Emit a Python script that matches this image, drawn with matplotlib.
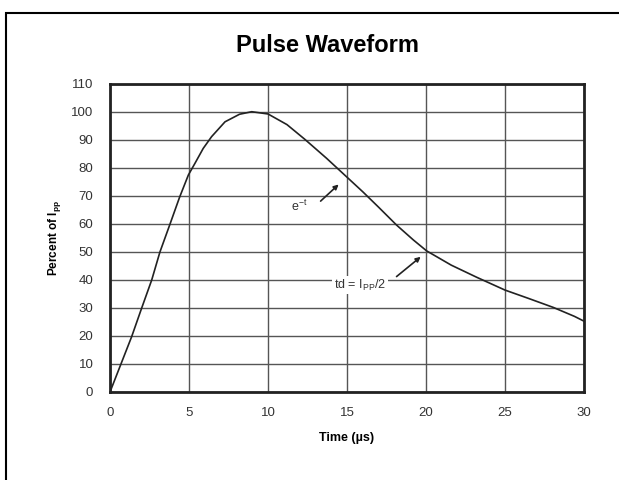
import numpy as np
import matplotlib.pyplot as plt
from matplotlib.patches import Rectangle

plt.rcParams['font.family'] = ['Liberation Sans', 'DejaVu Sans']

# Pulse waveform (time in us, percent of Ipp)
time_us = [0, 1.37, 2.0, 2.64, 3.16, 3.8, 4.4, 4.96, 5.38, 5.9, 6.43, 7.28, 8.2, 8.97, 10.0, 11.2, 12.34,
           13.7, 15.08, 16.0, 17.0, 18.14, 19.2, 20.04, 21.6, 23.2, 25.0, 26.5, 28.06, 29.4, 30.0]
percent = [0, 19.75, 29.9, 40.0, 50.0, 60.0, 69.5, 77.5, 81.7, 87.0, 91.2, 96.5, 99.2, 100.1, 99.3, 95.5, 90.2,
           83.5, 76.3, 71.5, 66.0, 59.6, 54.3, 50.4, 45.3, 41.0, 36.4, 33.4, 30.2, 27.0, 25.3]

x_ticks = [0, 5, 10, 15, 20, 25, 30]
y_ticks = list(range(0, 111, 10))

fig = plt.figure(figsize=(6.19, 4.8), dpi=100)
ax = fig.add_axes([110 / 619, 1 - 392 / 480, 474 / 619, 308 / 480])

# outer frame of the picture
fig.patches.append(Rectangle((6 / 619, -0.05), 1.1, 1 - 13 / 480 + 0.05, transform=fig.transFigure,
                             fill=False, edgecolor='black', linewidth=1.5))

ax.plot(time_us, percent, color='#222222', linewidth=1.2, zorder=3)

ax.set_xlim(0, 30)
ax.set_ylim(0, 110)
ax.set_xticks(x_ticks)
ax.set_yticks(y_ticks)
ax.grid(True, color='#555555', linewidth=1.0, zorder=0)
ax.set_axisbelow(True)
ax.tick_params(length=0, labelsize=9.5, labelcolor='#333333')
ax.tick_params(axis='y', pad=12)
ax.tick_params(axis='x', pad=11)
for sp in ax.spines.values():
    sp.set_linewidth(2)
    sp.set_color('#222222')

ax.set_xlabel('Time (µs)', fontsize=9, fontweight='bold', labelpad=9)
ax.set_ylabel('Percent of I$_{\\mathregular{pp}}$', fontsize=8.5, fontweight='bold', labelpad=6)

fig.text(327 / 619, 1 - 46 / 480, 'Pulse Waveform', fontsize=17, fontweight='bold',
         ha='center', va='center')

arrow = dict(arrowstyle='-|>', color='#222222', linewidth=1.2, mutation_scale=7)
ax.annotate('', xy=(14.6, 74.8), xytext=(13.2, 67.5), arrowprops=arrow)
ax.text(12.0, 66.2, 'e$^{\\mathregular{-t}}$', fontsize=9, ha='center', va='center', color='#333333')

ax.annotate('', xy=(19.8, 48.9), xytext=(18.0, 40.6), arrowprops=arrow)
ax.text(15.8, 38.2, 'td = I$_{\\mathregular{PP}}$/2', fontsize=9, ha='center', va='center', color='#333333',
        bbox=dict(boxstyle='square,pad=0.15', facecolor='white', edgecolor='none'), zorder=4)

fig.savefig('out.png', dpi=100)
